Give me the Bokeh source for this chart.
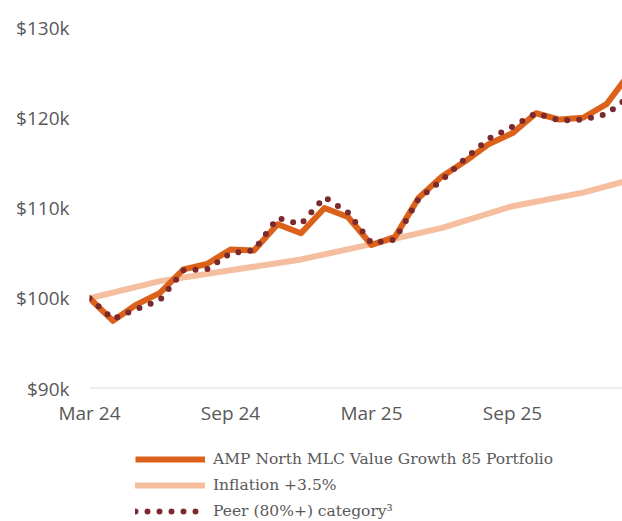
from bokeh.plotting import figure
from bokeh.layouts import column
from bokeh.models import Range1d, FixedTicker, Span, Legend, LegendItem
from bokeh.embed import file_html
from bokeh.resources import INLINE

# ---- data (values in $k, x = months since Mar 24) ----
months = list(range(24))
portfolio = [100.0, 97.5, 99.3, 100.6, 103.2, 103.8, 105.4, 105.3, 108.2, 107.2,
             110.0, 109.0, 105.9, 106.8, 111.1, 113.5, 115.2, 117.1, 118.3, 120.5,
             119.8, 120.0, 121.5, 125.0]
peer = [100.0, 97.7, 98.8, 99.8, 103.1, 103.2, 105.0, 105.3, 108.9, 108.2,
        111.2, 109.5, 106.1, 106.5, 111.0, 113.1, 115.5, 117.7, 119.0, 120.5,
        119.7, 119.8, 120.4, 122.4]
infl_months = [0, 3, 6, 9, 12, 15, 18, 21, 24]
inflation = [100.0, 101.9, 103.1, 104.3, 106.0, 107.8, 110.2, 111.7, 113.8]

x_ticks = [0, 6, 12, 18]
x_labels = ["Mar 24", "Sep 24", "Mar 25", "Sep 25"]
y_ticks = [90, 100, 110, 120, 130]
y_labels = ["$90k", "$100k", "$110k", "$120k", "$130k"]

series_names = ["AMP North MLC Value Growth 85 Portfolio", "Inflation +3.5%",
                "Peer (80%+) category\u00b3"]

ORANGE = "#DC621B"
PEACH = "#F5BE9E"
MAROON = "#7A2A2E"
GREY = "#595959"

STYLES = [dict(line_color=ORANGE, line_width=6, line_join="round"),
          dict(line_color=PEACH, line_width=6, line_cap="round"),
          dict(line_color=MAROON, line_width=6, line_dash="0 12", line_cap="round")]
SERIES = [(months, portfolio), (infl_months, inflation), (months, peer)]

# ---------------- main chart ----------------
p = figure(width=622, height=440, output_backend="svg", toolbar_location=None,
           x_range=Range1d(0, 22.68), y_range=Range1d(90, 130),
           min_border_left=89, min_border_right=0, min_border_top=27,
           min_border_bottom=52)
p.outline_line_color = None
p.xgrid.visible = False
p.ygrid.visible = False

p.add_layout(Span(location=90, dimension="width", line_color="#D9D9D9", line_width=2))
for i in (1, 0, 2):
    p.line(SERIES[i][0], SERIES[i][1], **STYLES[i])

for ax in (p.xaxis[0], p.yaxis[0]):
    ax.axis_line_color = None
    ax.major_tick_line_color = None
    ax.minor_tick_line_color = None
    ax.major_tick_out = 0
    ax.minor_tick_out = 0
    ax.major_label_text_font = "Open Sans"
    ax.major_label_text_font_size = "19px"
    ax.major_label_text_color = GREY

p.xaxis.ticker = FixedTicker(ticks=x_ticks)
p.xaxis.major_label_overrides = dict(zip(x_ticks, x_labels))
p.xaxis.major_label_standoff = 11
p.yaxis.ticker = FixedTicker(ticks=y_ticks)
p.yaxis.major_label_overrides = dict(zip(y_ticks, y_labels))
p.yaxis.major_label_standoff = 20

# ---------------- legend strip (its series lie outside its view) ----------------
lg = figure(width=622, height=81, output_backend="svg", toolbar_location=None,
            x_axis_type=None, y_axis_type=None,
            x_range=Range1d(0, 22.68), y_range=Range1d(0, 1),
            min_border_left=0, min_border_right=0, min_border_top=0,
            min_border_bottom=0)
lg.outline_line_color = None
lg.xgrid.visible = False
lg.ygrid.visible = False
key_renderers = [lg.line(SERIES[i][0], SERIES[i][1], **STYLES[i]) for i in range(3)]

legend = Legend(items=[LegendItem(label=n, renderers=[r])
                       for n, r in zip(series_names, key_renderers)],
                location=(46, 0), orientation="vertical",
                glyph_width=70, glyph_height=20, label_standoff=8, spacing=6,
                label_height=20, padding=0, margin=0, border_line_color=None,
                background_fill_alpha=0,
                label_text_font="DejaVu Serif", label_text_font_size="15.5px",
                label_text_color=GREY)
lg.add_layout(legend, "center")

open("out.html", "w").write(file_html(column(p, lg, spacing=0), INLINE))
